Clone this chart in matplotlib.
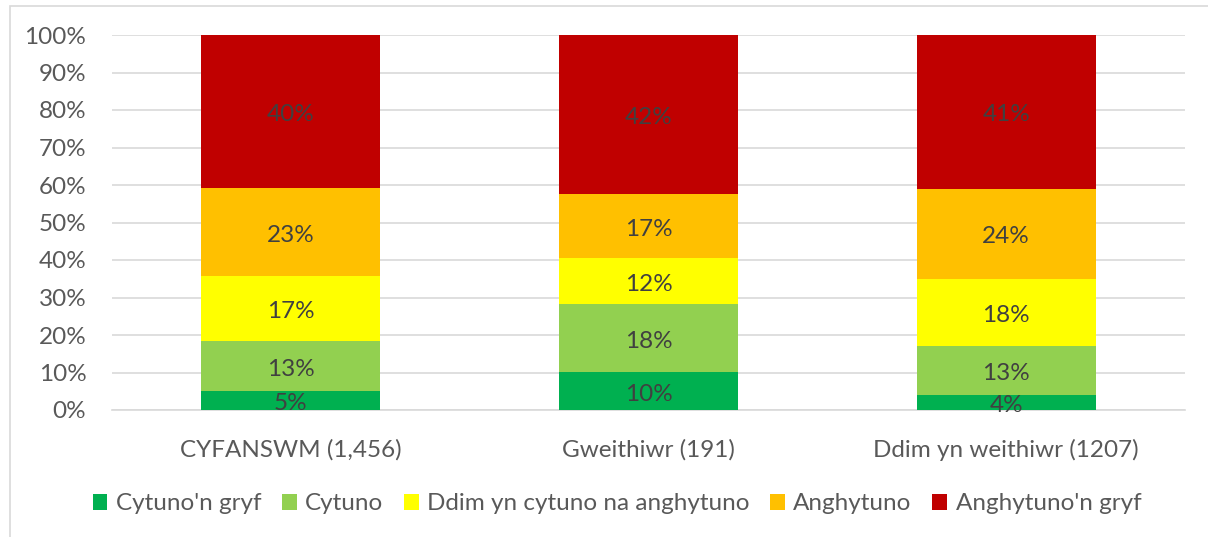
import matplotlib
matplotlib.use("Agg")
import matplotlib.pyplot as plt
from matplotlib.patches import Rectangle, Patch
import numpy as np

categories = ["CYFANSWM (1,456)", "Gweithiwr (191)", "Ddim yn weithiwr (1207)"]
series_names = ["Cytuno'n gryf", "Cytuno", "Ddim yn cytuno na anghytuno", "Anghytuno", "Anghytuno'n gryf"]
cytuno_gryf = [5, 10, 4]
cytuno = [13, 18, 13]
ddim = [17, 12, 18]
anghytuno = [23, 17, 24]
anghytuno_gryf = [40, 42, 41]
colors = ["#00B050", "#92D050", "#FFFF00", "#FFC000", "#C00000"]

plt.rcParams['font.family'] = ['Lato', 'DejaVu Sans']

series = np.array([cytuno_gryf, cytuno, ddim, anghytuno, anghytuno_gryf], dtype=float)
totals = series.sum(axis=0)
pct = series / totals * 100

fig = plt.figure(figsize=(12.08, 5.37), dpi=100)
W, H = 1208, 537
ax = fig.add_axes([112 / W, 1 - 410 / H, (1185 - 112) / W, (410 - 35) / H])

# chart border
fig.patches.append(Rectangle((10 / W, -0.1), 1.2, 1 - 6 / H + 0.1, transform=fig.transFigure,
                             fill=False, edgecolor="#D9D9D9", linewidth=1.2, zorder=0))

FS = 17.5
x = np.arange(len(categories))
bottom = np.zeros(len(categories))
for i, name in enumerate(series_names):
    ax.bar(x, pct[i], 0.5, bottom=bottom, color=colors[i], label=name, zorder=3)
    for j in range(len(categories)):
        ax.annotate(f"{series[i][j]:.0f}%", (x[j], bottom[j] + pct[i][j] / 2),
                    xytext=(0, -2.2), textcoords="offset points",
                    ha="center", va="center", fontsize=FS, color="#404040", zorder=4)
    bottom += pct[i]

ax.set_xlim(-0.5, 2.5)
ax.set_ylim(0, 100)
ax.set_yticks(np.arange(0, 101, 10))
ax.set_yticklabels([f"{v}%" for v in range(0, 101, 10)])
ax.yaxis.grid(True, color="#D9D9D9", linewidth=1.2, zorder=0)
ax.set_axisbelow(True)
for s in ax.spines.values():
    s.set_visible(False)
ax.spines['bottom'].set_visible(True)
ax.spines['bottom'].set_color("#D9D9D9")
ax.spines['bottom'].set_linewidth(1.2)
ax.tick_params(axis="both", length=0, labelsize=FS, colors="#595959")
ax.tick_params(axis="y", pad=18.5)
ax.tick_params(axis="x", pad=21)
ax.set_xticks(x)
ax.set_xticklabels(categories)

handles = [Patch(facecolor=c, label=n) for c, n in zip(colors, series_names)]
leg = fig.legend(handles=handles, loc="center", bbox_to_anchor=(617 / W, 1 - 504 / H), ncol=5,
                 frameon=False, fontsize=FS, handlelength=0.6, handleheight=0.6,
                 handletextpad=0.35, columnspacing=0.85)
for t in leg.get_texts():
    t.set_color("#595959")

fig.savefig("out.png", dpi=100)
